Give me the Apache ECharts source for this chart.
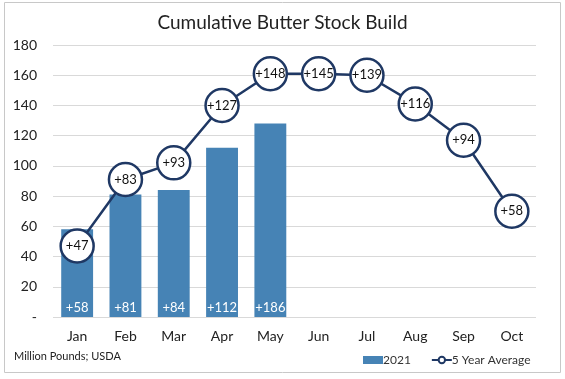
<!DOCTYPE html>
<html>
<head>
<meta charset="utf-8">
<script src="https://cdn.jsdelivr.net/npm/echarts@6/dist/echarts.min.js"></script>
<style>
html,body{margin:0;padding:0;background:#fff;}
#c{width:565px;height:379px;}
</style>
</head>
<body>
<div id="c"></div>
<script>
const months = ['Jan','Feb','Mar','Apr','May','Jun','Jul','Aug','Sep','Oct'];
const build2021 = [58, 81, 84, 112, 128];
const build2021Labels = ['+58','+81','+84','+112','+186'];
const avg5yr = [47, 91, 102, 140, 161, 161, 160, 141, 117, 70];
const avg5yrLabels = ['+47','+83','+93','+127','+148','+145','+139','+116','+94','+58'];
const yTicks = {min: 0, max: 180, interval: 20};

const chart = echarts.init(document.getElementById('c'), null, {renderer: 'canvas'});
const FONT = 'Lato, "Open Sans", sans-serif';
chart.setOption({
  animation: false,
  textStyle: {fontFamily: FONT},
  graphic: [
    {type: 'rect', shape: {x: 4.5, y: 2.5, width: 556, height: 370}, style: {fill: 'none', stroke: '#c8c8c8', lineWidth: 1}, z: -1},
    {type: 'text', left: 14, top: 351, style: {text: 'Million Pounds; USDA', fontSize: 11, fill: '#222', fontFamily: FONT}}
  ],
  title: {
    text: 'Cumulative Butter Stock Build',
    left: 'center', top: 8,
    textStyle: {fontSize: 19, fontWeight: 'normal', color: '#222', fontFamily: FONT}
  },
  legend: {
    left: 358, top: 349,
    itemWidth: 20, itemHeight: 8, itemGap: 20,
    textStyle: {fontSize: 12, color: '#333', fontFamily: FONT, padding: [0,0,0,-5]},
    data: [
      {name: '2021', icon: 'rect'},
      {name: '5 Year Average'}
    ]
  },
  grid: {left: 53, right: 29, top: 45, bottom: 62},
  xAxis: {
    type: 'category', data: months,
    axisLine: {show: false}, axisTick: {show: false},
    axisLabel: {fontSize: 14, color: '#222', margin: 12}
  },
  yAxis: {
    type: 'value', min: yTicks.min, max: yTicks.max, interval: yTicks.interval,
    axisLine: {show: false}, axisTick: {show: false},
    splitLine: {lineStyle: {color: '#d9d9d9', width: 1}},
    axisLabel: {fontSize: 14, color: '#222', margin: 16, formatter: v => v === 0 ? '-' : v}
  },
  series: [
    {
      name: '2021', type: 'bar', data: build2021,
      barCategoryGap: '34%',
      itemStyle: {color: '#4683B5'},
      label: {show: true, position: 'insideBottom', distance: 3, color: '#fff', fontSize: 13,
        formatter: p => build2021Labels[p.dataIndex]}
    },
    {
      name: '5 Year Average', type: 'line', data: avg5yr,
      symbol: 'circle', symbolSize: 33,
      lineStyle: {color: '#1F3864', width: 2.5},
      itemStyle: {color: '#fff', borderColor: '#1F3864', borderWidth: 2.5},
      label: {show: true, position: 'inside', color: '#111', fontSize: 13,
        formatter: p => avg5yrLabels[p.dataIndex]},
      z: 3
    }
  ]
});
</script>
</body>
</html>
